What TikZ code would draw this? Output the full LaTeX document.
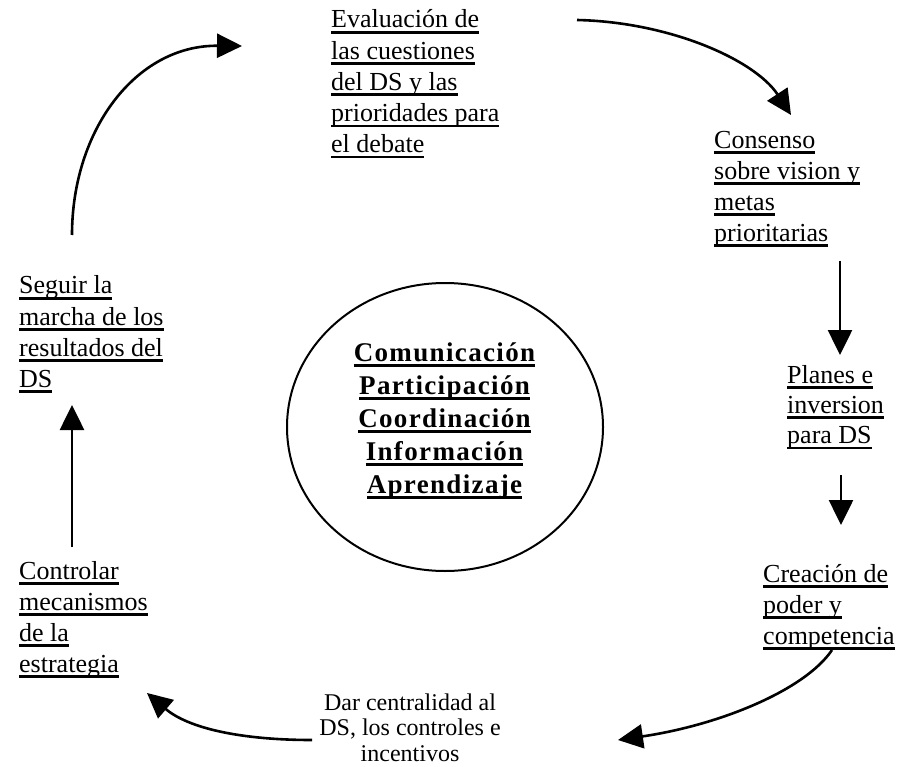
\documentclass[tikz,border=0pt]{standalone}
\usepackage{fontspec}
\setmainfont{Liberation Serif}
\newfontfamily\corefont[LetterSpace=5]{Liberation Serif}
\usetikzlibrary{arrows.meta,shapes.geometric}

% one line of text with a thick rule just below its baseline
\newcommand\ulword[1]{\setbox0=\hbox{#1}\rlap{\rule[-5.6pt]{\wd0}{2.6pt}}\box0}
% lines stacked at a fixed baseline distance, left-aligned or centred
\newcommand\leftstack[2]{\vtop{\baselineskip=#1\relax\lineskiplimit=-100pt\halign{##\hfil\cr#2\crcr}}}
\newcommand\centerstack[2]{\vtop{\baselineskip=#1\relax\lineskiplimit=-100pt\halign{\hfil##\hfil\cr#2\crcr}}}

\tikzset{
  lbl/.style={inner sep=0pt, font=\fontsize{26}{31}\selectfont},
  plain/.style={inner sep=0pt, font=\fontsize{24}{27}\selectfont},
  core/.style={inner sep=0pt, font=\corefont\bfseries\fontsize{27}{33}\selectfont},
  ring/.style={draw, ellipse, line width=2pt, inner sep=0pt},
  flow/.style={line width=2.6pt, -{Triangle[length=25pt,width=24pt]}}
}

\begin{document}
\begin{tikzpicture}[x=1pt,y=-1pt]
  \useasboundingbox (0,0) rectangle (907,767);

  % central ellipse and its keywords
  \node[ring, minimum width=316pt, minimum height=288pt] (ring) at (445,427) {};
  \node[core, anchor=base] (coretext) at (444.5,361) {\centerstack{33pt}{%
    \ulword{Comunicación}\cr \ulword{Participación}\cr \ulword{Coordinación}\cr
    \ulword{Información}\cr \ulword{Aprendizaje}}};

  % the steps of the cycle
  \node[lbl, anchor=base west] (eval) at (331,28) {\leftstack{31.2pt}{%
    \ulword{Evaluación de}\cr \ulword{las cuestiones}\cr \ulword{del DS y las}\cr
    \ulword{prioridades para}\cr \ulword{el debate}}};
  \node[lbl, anchor=base west] (consenso) at (714,148.5) {\leftstack{31pt}{%
    \ulword{Consenso}\cr \ulword{sobre vision y}\cr \ulword{metas}\cr \ulword{prioritarias}}};
  \node[lbl, anchor=base west] (planes) at (787,383) {\leftstack{30.3pt}{%
    \ulword{Planes e}\cr \ulword{inversion}\cr \ulword{para DS}}};
  \node[lbl, anchor=base west] (creacion) at (763,582) {\leftstack{31pt}{%
    \ulword{Creación de}\cr \ulword{poder y}\cr \ulword{competencia}}};
  \node[plain, anchor=base] (dar) at (410,710) {\centerstack{25.5pt}{%
    Dar centralidad al\cr DS, los controles e\cr incentivos}};
  \node[lbl, anchor=base west] (controlar) at (19,579) {\leftstack{31pt}{%
    \ulword{Controlar}\cr \ulword{mecanismos}\cr \ulword{de la}\cr \ulword{estrategia}}};
  \node[lbl, anchor=base west] (seguir) at (19,294) {\leftstack{31.1pt}{%
    \ulword{Seguir la}\cr \ulword{marcha de los}\cr \ulword{resultados del}\cr \ulword{DS}}};

  % ends of the connectors between the steps
  \coordinate (seguirOut) at (72,235);
  \coordinate (evalIn) at (242,46);
  \coordinate (evalOut) at (577,20);
  \coordinate (consensoIn) at (791,115);
  \coordinate (consensoOut) at (840,261);
  \coordinate (planesIn) at (840,355);
  \coordinate (planesOut) at (841,475);
  \coordinate (creacionIn) at (841,525);
  \coordinate (creacionOut) at (832,650);
  \coordinate (darIn) at (618,740);
  \coordinate (darOut) at (312,740);
  \coordinate (controlarIn) at (147,693);
  \coordinate (controlarOut) at (72,547);
  \coordinate (seguirIn) at (72,405);

  % connectors, clockwise
  \draw[flow] (seguirOut) .. controls (72,130) and (136,45) .. (evalIn);
  \draw[flow] (evalOut) .. controls (670,22) and (755,60) .. (consensoIn);
  \draw[flow] (consensoOut) -- (planesIn);
  \draw[flow] (planesOut) -- (creacionIn);
  \draw[flow] (creacionOut) .. controls (805,690) and (720,725) .. (darIn);
  \draw[flow] (darOut) .. controls (240,740) and (188,728) .. (controlarIn);
  \draw[flow] (controlarOut) -- (seguirIn);
\end{tikzpicture}
\end{document}
